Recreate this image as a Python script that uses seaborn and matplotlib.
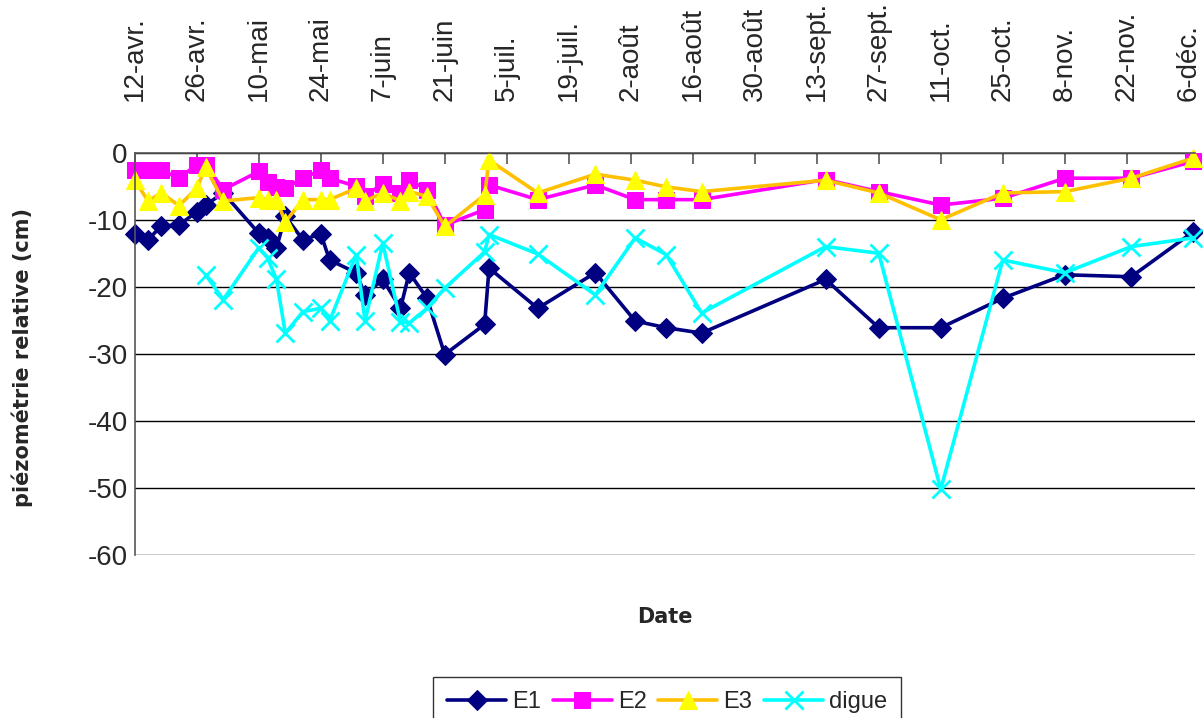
import pandas as pd
import matplotlib
matplotlib.use("Agg")
import matplotlib.pyplot as plt
import seaborn as sns

# --- dates de mesure des piézomètres E1, E2, E3 ---
dates_e = [
    "2005-04-12", "2005-04-15", "2005-04-18", "2005-04-22", "2005-04-26",
    "2005-04-28", "2005-05-02", "2005-05-10", "2005-05-12", "2005-05-14",
    "2005-05-16", "2005-05-20", "2005-05-24", "2005-05-26", "2005-06-01",
    "2005-06-03", "2005-06-07", "2005-06-11", "2005-06-13", "2005-06-17",
    "2005-06-21", "2005-06-30", "2005-07-01", "2005-07-12", "2005-07-25",
    "2005-08-03", "2005-08-10", "2005-08-18", "2005-09-15", "2005-09-27",
    "2005-10-11", "2005-10-25", "2005-11-08", "2005-11-23", "2005-12-07",
]
e1 = [-12.1, -13.0, -10.9, -10.8, -8.8, -7.8, -6.0, -12.0, -12.7, -14.2,
      -9.5, -13.0, -12.1, -16.0, -17.9, -21.2, -18.9, -23.2, -17.9, -21.7,
      -30.1, -25.6, -17.2, -23.2, -17.9, -25.1, -26.1, -26.9, -18.9, -26.1,
      -26.1, -21.7, -18.2, -18.5, -11.8]
e2 = [-2.6, -2.6, -2.6, -3.8, -1.8, -1.8, -5.5, -2.8, -4.3, -5.1,
      -5.3, -3.8, -2.6, -3.8, -5.0, -6.5, -4.6, -6.0, -4.1, -5.5,
      -10.8, -8.5, -4.8, -7.0, -4.8, -7.0, -7.0, -7.0, -4.0, -5.8,
      -7.8, -6.8, -3.8, -3.8, -1.3]
e3 = [-4.1, -7.2, -6.0, -7.9, -5.3, -2.2, -7.2, -6.7, -7.0, -7.0,
      -10.3, -7.0, -7.0, -7.0, -5.3, -7.2, -6.0, -7.2, -5.8, -6.5,
      -11.0, -6.3, -1.1, -6.0, -3.2, -4.1, -5.1, -5.8, -4.1, -6.0,
      -10.0, -6.0, -5.8, -3.8, -0.8]

# --- dates de mesure de la digue ---
dates_digue = [
    "2005-04-28", "2005-05-02", "2005-05-10", "2005-05-12", "2005-05-14",
    "2005-05-16", "2005-05-20", "2005-05-24", "2005-05-26", "2005-06-01",
    "2005-06-03", "2005-06-07", "2005-06-11", "2005-06-13", "2005-06-17",
    "2005-06-21", "2005-06-30", "2005-07-01", "2005-07-12", "2005-07-25",
    "2005-08-03", "2005-08-10", "2005-08-18", "2005-09-15", "2005-09-27",
    "2005-10-11", "2005-10-25", "2005-11-08", "2005-11-23", "2005-12-07",
]
digue = [-18.2, -21.9, -14.2, -15.7, -18.9, -26.9, -23.7, -23.2, -25.1, -15.2,
         -25.1, -13.5, -25.2, -25.4, -23.2, -20.2, -14.8, -12.2, -15.1, -21.2,
         -12.7, -15.2, -23.9, -14.0, -15.0, -50.2, -16.0, -17.9, -14.0, -12.7]

tick_labels = ["12-avr.", "26-avr.", "10-mai", "24-mai", "7-juin", "21-juin",
               "5-juil.", "19-juil.", "2-août", "16-août", "30-août",
               "13-sept.", "27-sept.", "11-oct.", "25-oct.", "8-nov.",
               "22-nov.", "6-déc."]
y_ticks = [-60, -50, -40, -30, -20, -10, 0]

series = [
    ("E1", dates_e, e1, dict(color="#000080", marker="D", markersize=10,
                             markerfacecolor="#000080", markeredgecolor="#000080")),
    ("E2", dates_e, e2, dict(color="#FF00FF", marker="s", markersize=11,
                             markerfacecolor="#FF00FF", markeredgecolor="#FF00FF")),
    ("E3", dates_e, e3, dict(color="#FFC000", marker="^", markersize=13,
                             markerfacecolor="#FFFF00", markeredgecolor="#FFFF00")),
    ("digue", dates_digue, digue, dict(color="#00FFFF", marker="x", markersize=13,
                                       markeredgewidth=2.0,
                                       markeredgecolor="#00FFFF")),
]


def main():
    sns.set_style("white")
    plt.rcParams["font.family"] = ["Liberation Sans", "DejaVu Sans"]

    fig = plt.figure(figsize=(12.03, 7.18), dpi=100)
    ax = fig.add_axes([0.112, 0.227, 0.8817, 0.5603])

    for name, dts, vals, st in series:
        sns.lineplot(x=pd.to_datetime(dts), y=vals, ax=ax, label=name,
                     linewidth=2.6, clip_on=False, legend=False, **st)

    start = pd.Timestamp("2005-04-12")
    tick_dates = pd.date_range(start, periods=len(tick_labels), freq="14D")
    ax.set_xlim(start, start + pd.Timedelta(days=239.5))
    ax.set_ylim(-60, 0)

    ax.xaxis.tick_top()
    ax.set_xticks(tick_dates)
    ax.set_xticklabels(tick_labels, rotation=90, fontsize=20)
    ax.tick_params(axis="x", direction="in", length=8, width=1.2,
                   color="#555555", pad=37)

    ax.set_yticks(y_ticks)
    ax.set_yticklabels([str(v) for v in y_ticks], fontsize=20)
    ax.tick_params(axis="y", direction="out", length=4, width=1.2,
                   color="#555555", pad=1)

    ax.grid(axis="y", color="black", linewidth=1.0)
    ax.grid(axis="x", visible=False)
    ax.set_axisbelow(True)

    for side in ["right", "bottom"]:
        ax.spines[side].set_visible(False)
    for side in ["left", "top"]:
        ax.spines[side].set_color("#555555")
        ax.spines[side].set_linewidth(1.2)

    ax.set_xlabel("")
    ax.set_ylabel("")
    fig.text(22 / 1203, 1 - 357 / 718, "piézométrie relative (cm)",
             rotation=90, ha="center", va="center", fontsize=15,
             fontweight="bold", family="DejaVu Sans")
    fig.text(665 / 1203, 1 - 617 / 718, "Date", ha="center", va="center",
             fontsize=15, fontweight="bold", family="DejaVu Sans")

    # legende en bas, coupee par le bord de la figure comme l'original
    handles, labels = ax.get_legend_handles_labels()
    leg = fig.legend(handles, labels, loc="upper left",
                     bbox_to_anchor=(433 / 1203, 1 - 677 / 718),
                     borderaxespad=0, ncol=4, fontsize=17, frameon=True,
                     fancybox=False, edgecolor="black", handlelength=2.5,
                     handletextpad=0.25, columnspacing=0.5, borderpad=0.6)
    leg.get_frame().set_linewidth(1.0)

    fig.savefig("out.png", dpi=100)
    plt.close(fig)


if __name__ == "__main__":
    main()
